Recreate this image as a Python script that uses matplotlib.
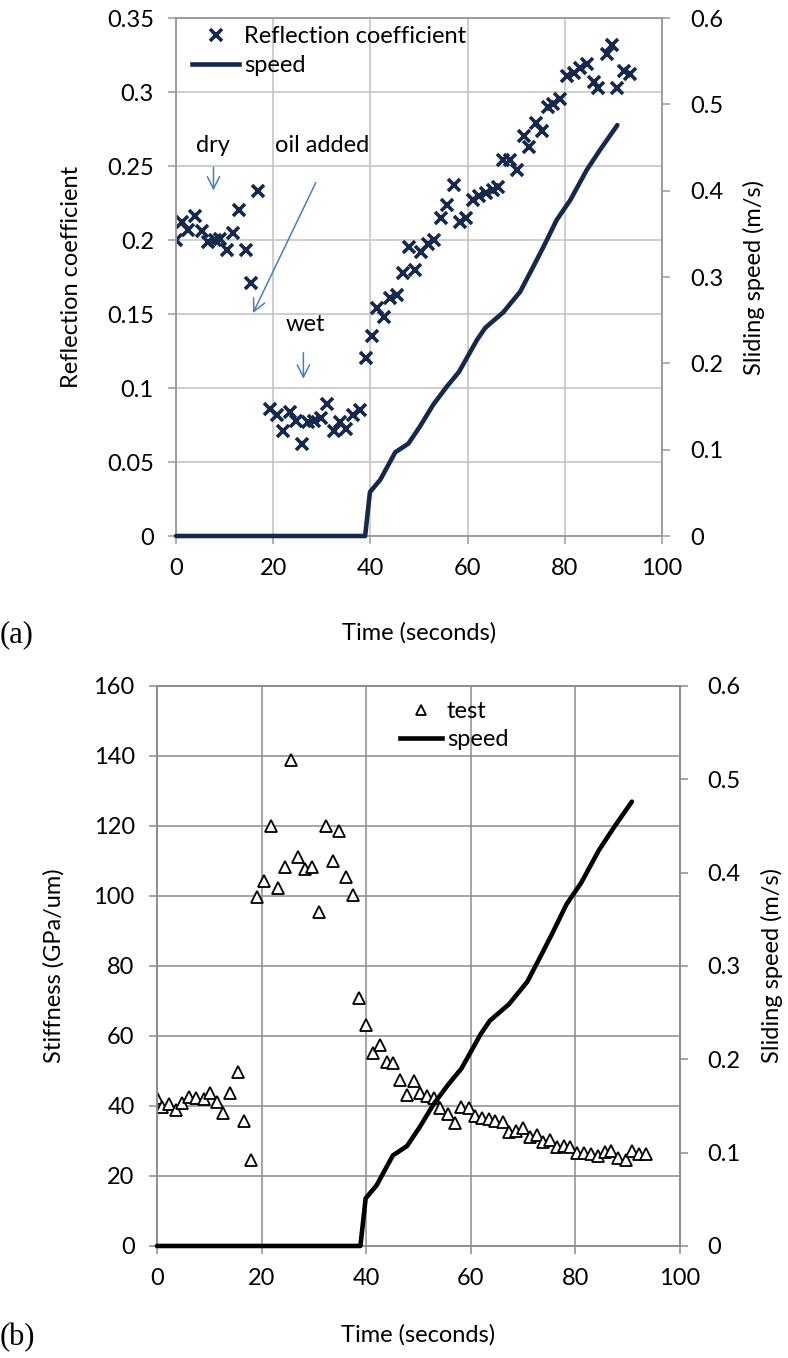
import matplotlib
matplotlib.use("Agg")
import matplotlib.pyplot as plt
from matplotlib.lines import Line2D

plt.rcParams['font.family'] = ['Lato', 'DejaVu Sans']

# ---- panel (a): reflection coefficient vs time ----
t_refl = [0, 1.2, 2.5, 3.9, 5.3, 6.6, 8.0, 9.1, 10.4, 11.7, 13.0, 14.3, 15.4, 16.9,
          19.3, 20.7, 22.1, 23.5, 24.7, 25.9, 27.2, 28.4, 29.8, 31.1, 32.4, 33.7, 35.0, 36.4, 37.9,
          39.0, 40.3, 41.3, 42.8, 44.0, 45.4, 46.6, 48.0, 49.2, 50.5, 51.9, 53.1, 54.5, 55.8, 57.1,
          58.4, 59.7, 61.0, 62.4, 63.8, 65.2, 66.3, 67.3, 68.7, 70.1, 71.5, 72.7, 74.1, 75.2, 76.6,
          77.6, 79.0, 80.4, 81.8, 83.1, 84.5, 85.9, 86.9, 88.6, 89.6, 90.8, 92.2, 93.4]
refl = [0.200, 0.212, 0.207, 0.216, 0.206, 0.199, 0.200, 0.201, 0.193, 0.205, 0.220, 0.193, 0.171, 0.233,
        0.086, 0.082, 0.071, 0.084, 0.078, 0.062, 0.077, 0.078, 0.080, 0.089, 0.071, 0.077, 0.072, 0.082, 0.085,
        0.120, 0.135, 0.154, 0.148, 0.161, 0.163, 0.178, 0.195, 0.180, 0.192, 0.197, 0.200, 0.215, 0.224, 0.237,
        0.212, 0.215, 0.227, 0.230, 0.232, 0.234, 0.236, 0.254, 0.254, 0.247, 0.270, 0.263, 0.279, 0.274, 0.290,
        0.292, 0.295, 0.311, 0.313, 0.316, 0.319, 0.307, 0.303, 0.326, 0.332, 0.303, 0.314, 0.312]

# ---- panel (b): stiffness vs time ----
t_stiff = [0, 0.9, 2.3, 3.6, 4.8, 6.2, 7.5, 8.9, 10.1, 11.4, 12.7, 14.0, 15.4, 16.7, 17.9,
           19.2, 20.5, 21.8, 23.1, 24.4, 25.7, 27.0, 28.3, 29.7, 30.9, 32.3, 33.6, 34.8, 36.2, 37.5,
           38.7, 40.0, 41.3, 42.7, 44.0, 45.2, 46.5, 47.8, 49.1, 50.3, 51.6, 52.9, 54.2, 55.6, 57.0,
           58.2, 59.6, 60.9, 62.1, 63.4, 64.7, 66.1, 67.4, 68.7, 70.0, 71.4, 72.7, 73.8, 75.2, 76.5,
           77.8, 79.0, 80.3, 81.7, 83.0, 84.3, 85.6, 86.8, 88.1, 89.6, 90.9, 92.1, 93.6]
stiff = [42.2, 39.8, 40.6, 38.9, 40.8, 42.5, 42.2, 42.0, 43.6, 41.1, 38.1, 43.6, 49.6, 35.8, 24.6,
         99.8, 104.4, 120.0, 102.2, 108.2, 138.7, 111.2, 107.7, 108.4, 95.5, 120.1, 110.1, 118.6, 105.3, 100.3,
         70.8, 63.1, 55.2, 57.4, 52.7, 52.2, 47.4, 43.1, 47.2, 43.8, 42.9, 42.2, 39.3, 37.6, 35.2,
         39.8, 39.3, 37.1, 36.5, 36.3, 35.8, 35.5, 32.7, 32.9, 33.8, 31.1, 31.7, 29.8, 30.3, 28.4,
         28.6, 28.2, 26.5, 26.5, 26.3, 25.7, 26.9, 27.2, 25.0, 24.6, 27.2, 26.3, 26.3]

# ---- sliding speed (same run in both panels) ----
t_speed = [0, 38.9, 39.9, 42.0, 45.1, 47.8, 50.2, 52.9, 55.7, 58.2, 61.9, 63.6, 64.6, 67.3,
           70.8, 73.5, 75.6, 78.3, 81.1, 84.5, 87.2, 90.8]
speed = [0, 0, 0.051, 0.065, 0.097, 0.107, 0.127, 0.152, 0.173, 0.190, 0.227, 0.241, 0.246, 0.259,
         0.283, 0.312, 0.335, 0.366, 0.389, 0.424, 0.447, 0.476]

x_ticks = [0, 20, 40, 60, 80, 100]
refl_ticks = [0, 0.05, 0.1, 0.15, 0.2, 0.25, 0.3, 0.35]
refl_labels = ['0', '0.05', '0.1', '0.15', '0.2', '0.25', '0.3', '0.35']
stiff_ticks = [0, 20, 40, 60, 80, 100, 120, 140, 160]
speed_ticks = [0, 0.1, 0.2, 0.3, 0.4, 0.5, 0.6]
speed_labels = ['0', '0.1', '0.2', '0.3', '0.4', '0.5', '0.6']

navy = '#16294a'
blue = '#4a7ebb'
FS = 17

fig = plt.figure(figsize=(7.88, 13.58), dpi=100)


def style_axes(ax, ax2, grid_col, spine_col, xpad):
    ax.set_xlim(0, 100)
    ax.set_xticks(x_ticks)
    ax.grid(True, color=grid_col, lw=1.1)
    ax.set_axisbelow(True)
    for sp in ax.spines.values():
        sp.set_color(spine_col)
        sp.set_linewidth(1.1)
    for sp in ax2.spines.values():
        sp.set_color(spine_col)
        sp.set_linewidth(1.1)
    ax.tick_params(axis='both', direction='out', length=6, width=1.1, color=spine_col,
                   labelsize=FS, pad=10)
    ax2.tick_params(axis='y', direction='out', length=6, width=1.1, color=spine_col,
                    labelsize=FS, pad=14)
    ax2.set_ylim(0, 0.6)
    ax2.set_yticks(speed_ticks)
    ax2.set_yticklabels(speed_labels)
    ax2.set_ylabel('Sliding speed (m/s)', fontsize=FS, labelpad=14)
    ax.set_xlabel('Time (seconds)', fontsize=FS, labelpad=xpad)


# panel (a)
ax = fig.add_axes([0.2234, 0.6053, 0.6168, 0.3814])
ax2 = ax.twinx()
ax.plot(t_refl, refl, linestyle='none', marker='x', ms=9, mew=2.6, color=navy)
ax2.plot(t_speed, speed, color=navy, lw=3.3, solid_capstyle='round', clip_on=False, zorder=3)
ax.set_ylim(0, 0.35)
ax.set_yticks(refl_ticks)
ax.set_yticklabels(refl_labels)
ax.set_ylabel('Reflection coefficient', fontsize=FS, labelpad=18)
style_axes(ax, ax2, '#c0c0c0', '#9a9a9a', 31)

h_a = [Line2D([], [], linestyle='none', marker='x', ms=9, mew=2.6, color=navy),
       Line2D([], [], color=navy, lw=3.3)]
ax2.legend(h_a, ['Reflection coefficient', 'speed'], loc='upper left',
           bbox_to_anchor=(0.004, 1.012), frameon=False, fontsize=FS,
           handlelength=2.0, handletextpad=0.2, labelspacing=0.35, borderpad=0.1)

ax.annotate('', xy=(7.7, 0.2316), xytext=(7.7, 0.251),
            arrowprops=dict(arrowstyle='->', color=blue, lw=1.1, mutation_scale=22))
ax.text(7.5, 0.2637, 'dry', fontsize=FS, ha='center', va='center')
ax.annotate('', xy=(15.6, 0.149), xytext=(29.0, 0.2405),
            arrowprops=dict(arrowstyle='->', color=blue, lw=1.1, mutation_scale=22))
ax.text(30.0, 0.2637, 'oil added', fontsize=FS, ha='center', va='center')
ax.annotate('', xy=(26.2, 0.1043), xytext=(26.2, 0.1257),
            arrowprops=dict(arrowstyle='->', color=blue, lw=1.1, mutation_scale=22))
ax.text(26.7, 0.1426, 'wet', fontsize=FS, ha='center', va='center')

# panel (b)
bx = fig.add_axes([0.1992, 0.0825, 0.6637, 0.4124])
bx2 = bx.twinx()
bx.plot(t_stiff, stiff, linestyle='none', marker='^', ms=9, mew=1.3,
        markerfacecolor='white', markeredgecolor='black')
bx2.plot(t_speed, speed, color='black', lw=3.3, solid_capstyle='round', clip_on=False, zorder=3)
bx.set_ylim(0, 160)
bx.set_yticks(stiff_ticks)
bx.set_ylabel('Stiffness (GPa/um)', fontsize=FS, labelpad=21)
style_axes(bx, bx2, '#8c8c8c', '#8c8c8c', 25)

h_b = [Line2D([], [], linestyle='none', marker='^', ms=7, mew=1.3,
              markerfacecolor='white', markeredgecolor='black'),
       Line2D([], [], color='black', lw=3.3)]
bx2.legend(h_b, ['test', 'speed'], loc='upper left',
           bbox_to_anchor=(0.437, 0.998), frameon=False, fontsize=FS,
           handlelength=1.8, handletextpad=0.2, labelspacing=0.3, borderpad=0.1)

fig.text(0.0, 1 - 635 / 1358, '(a)', fontsize=22, family='Liberation Serif', va='center')
fig.text(0.0, 1 - 1338 / 1358, '(b)', fontsize=22, family='Liberation Serif', va='center')

fig.savefig('out.png', dpi=100)
